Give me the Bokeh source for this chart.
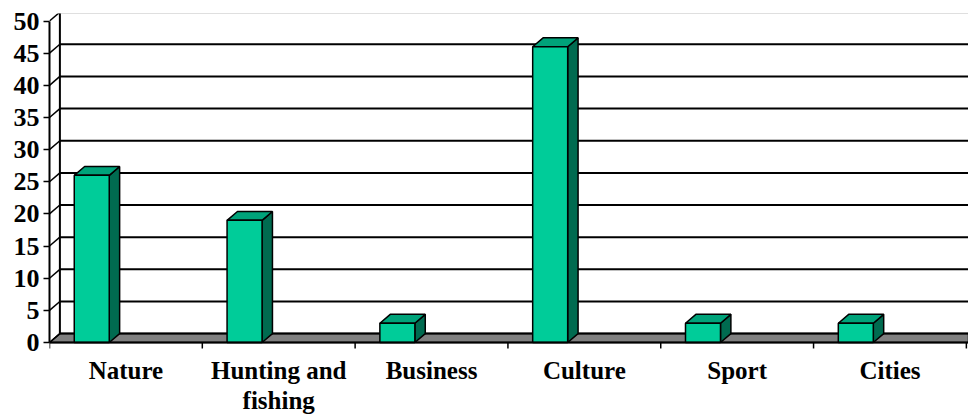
from bokeh.plotting import figure
from bokeh.models import Range1d, FixedTicker, ColumnDataSource
from bokeh.core.properties import value
from bokeh.embed import file_html
from bokeh.resources import INLINE

# ---- data ----
categories = ["Nature", "Hunting and\nfishing", "Business", "Culture", "Sport", "Cities"]
values = [26, 19, 3, 46, 3, 3]
y_ticks = [0, 5, 10, 15, 20, 25, 30, 35, 40, 45, 50]

# ---- style / geometry ----
FRONT = "#00CC99"
TOP = "#00A37A"
SIDE = "#006B50"
FLOOR = "#808080"
DX = 0.068      # depth offset in category units
DY = 1.38       # depth offset in value units
OFF = 0.162     # bar left offset inside category
BW = 0.229      # bar width (category units)
X_END = 6.014
Y_END = 51.17
Y_START = -11.51
TICK = 0.93     # x tick length in value units (~6px)
FONT = "Liberation Serif"

p = figure(width=968, height=416, output_backend="svg", toolbar_location=None,
           x_range=Range1d(0, X_END), y_range=Range1d(Y_START, Y_END),
           x_axis_location=None,
           min_border_left=49, min_border_right=0, min_border_top=13, min_border_bottom=0)
p.outline_line_color = None
p.xgrid.visible = False
p.ygrid.visible = False
p.background_fill_color = "white"
p.border_fill_color = "white"

ymax = max(y_ticks)
n = len(categories)
centers = [i + 0.5 for i in range(n)]
bounds = list(range(n + 1))

# floor
p.patch([0, X_END, X_END, DX], [0, 0, DY, DY], fill_color=FLOOR, line_color="black", line_width=1.5)

# back wall gridlines
p.segment(x0=[DX] * len(y_ticks), y0=[t + DY for t in y_ticks],
          x1=[X_END] * len(y_ticks), y1=[t + DY for t in y_ticks],
          line_color="black", line_width=2)
# side wall diagonals
p.segment(x0=[0] * len(y_ticks), y0=y_ticks,
          x1=[DX] * len(y_ticks), y1=[t + DY for t in y_ticks],
          line_color="black", line_width=1.5)
# back-left wall edge
p.segment(x0=[DX], y0=[DY], x1=[DX], y1=[ymax + DY], line_color="black", line_width=2)

# bars
fx, fy, tx, ty, sx, sy = [], [], [], [], [], []
for i, v in enumerate(values):
    l = i + OFF
    r = l + BW
    fx.append([l, r, r, l]); fy.append([0, 0, v, v])
    tx.append([l, r, r + DX, l + DX]); ty.append([v, v, v + DY, v + DY])
    sx.append([r, r + DX, r + DX, r]); sy.append([0, DY, v + DY, v])

p.patches(sx, sy, fill_color=SIDE, line_color="black", line_width=1.5)
p.patches(tx, ty, fill_color=TOP, line_color="black", line_width=1.5)
p.patches(fx, fy, fill_color=FRONT, line_color="black", line_width=1.5)

# category (x) axis: front floor edge, boundary ticks, labels
p.segment(x0=[0], y0=[0], x1=[X_END], y1=[0], line_color="black", line_width=2)
p.segment(x0=bounds, y0=[0] * len(bounds), x1=bounds, y1=[-TICK] * len(bounds),
          line_color="black", line_width=1.5)
lab_src = ColumnDataSource(dict(x=centers, y=[0] * n, text=categories))
p.text(x="x", y="y", text="text", source=lab_src, y_offset=15,
       text_align="center", text_baseline="top",
       text_font=value(FONT), text_font_style="bold", text_font_size="25px",
       text_color="black", text_line_height=1.08)

# y axis
ya = p.yaxis[0]
ya.bounds = (0, ymax)
ya.ticker = FixedTicker(ticks=y_ticks)
ya.axis_line_width = 2
ya.axis_line_color = "black"
ya.major_tick_out = 6
ya.major_tick_in = 0
ya.major_tick_line_width = 1.5
ya.minor_tick_out = 0
ya.minor_tick_in = 0
ya.major_label_standoff = 4
ya.major_label_text_font = FONT
ya.major_label_text_font_style = "bold"
ya.major_label_text_font_size = "26px"
ya.major_label_text_color = "black"

open("out.html", "w").write(file_html(p, INLINE))
